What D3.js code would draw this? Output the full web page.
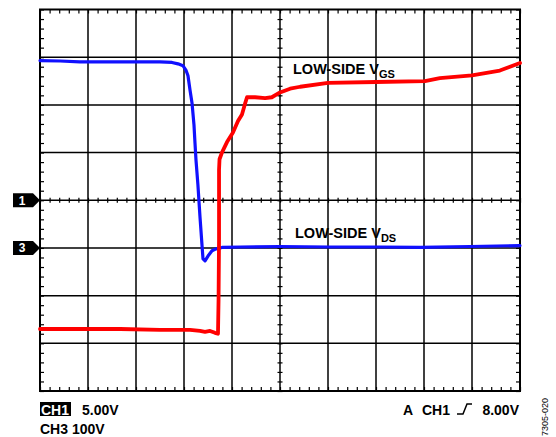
<!DOCTYPE html>
<html>
<head>
<meta charset="utf-8">
<script src="https://cdn.jsdelivr.net/npm/d3@7"></script>
<style>
  body { margin: 0; background: #fff; }
  text { font-family: "Liberation Sans", Arial, sans-serif; font-weight: bold; }
</style>
</head>
<body>
<svg width="556" height="437"></svg>
<script>
// time in screen divisions, values in volts
var vdsTime = [0, 0.42, 0.83, 1.67, 2.5, 2.75, 2.875, 2.98, 3.04, 3.083, 3.125, 3.167, 3.208, 3.229, 3.25, 3.29, 3.333, 3.375, 3.396, 3.438, 3.5, 3.583, 3.667, 3.79, 4.17, 5, 6.04, 7.08, 7.92, 8.96, 10];
var vdsVolts = [393, 392, 390, 390, 390, 389, 386, 382, 373, 361, 331, 304, 258, 220, 184, 132, 65, 6, -23, -27, -17, -6, -2, 1, 2, 3, 2, 2, 1, 3, 5];

var vgsTime = [0, 0.83, 1.67, 2.5, 3.125, 3.333, 3.438, 3.542, 3.646, 3.708, 3.72, 3.73, 3.73, 3.74, 3.79, 3.896, 4.02, 4.125, 4.208, 4.27, 4.313, 4.48, 4.69, 4.83, 5, 5.21, 5.42, 6, 7, 8.02, 8.33, 9, 9.58, 10];
var vgsVolts = [-13.5, -13.5, -13.5, -13.6, -13.6, -13.7, -13.8, -13.7, -13.9, -14.0, -10.4, -4.1, 3.2, 4.3, 5.0, 6.1, 7.1, 8.3, 9.0, 10.1, 10.8, 10.8, 10.7, 10.8, 11.3, 11.7, 11.9, 12.3, 12.4, 12.5, 12.8, 13.1, 13.6, 14.4];

var ch1VoltsPerDiv = 5, ch1Offset = 0;
var ch3VoltsPerDiv = 100, ch3Offset = -1;

var svg = d3.select("svg");

var x = d3.scaleLinear().domain([0, 10]).range([40, 520]);
var y = d3.scaleLinear().domain([-4, 4]).range([391, 9.5]);

var minorX = d3.range(0, 10.01, 0.2);
var minorY = d3.range(-4, 4.01, 0.2);

var grid = svg.append("g");

// major grid
grid.selectAll(".vline").data(d3.range(1, 10)).enter().append("line")
  .attr("x1", function(d) { return x(d); }).attr("x2", function(d) { return x(d); })
  .attr("y1", y(4)).attr("y2", y(-4))
  .attr("stroke", "#000").attr("stroke-width", 1.5);
grid.selectAll(".hline").data(d3.range(-3, 4)).enter().append("line")
  .attr("y1", function(d) { return y(d); }).attr("y2", function(d) { return y(d); })
  .attr("x1", x(0)).attr("x2", x(10))
  .attr("stroke", "#000").attr("stroke-width", 1.5);

// minor ticks along the border and the centre crosshair
function ticks(axis, size, tx, ty) {
  var g = grid.append("g")
    .attr("transform", "translate(" + tx + "," + ty + ")")
    .call(axis.tickSize(size).tickFormat(""));
  g.select(".domain").remove();
  g.selectAll("line").attr("stroke", "#000").attr("stroke-width", 1.2);
}
ticks(d3.axisBottom(x).tickValues(minorX), 4, 0, y(4));
ticks(d3.axisTop(x).tickValues(minorX), 4, 0, y(-4));
ticks(d3.axisRight(y).tickValues(minorY), 4, x(0), 0);
ticks(d3.axisLeft(y).tickValues(minorY), 4, x(10), 0);
ticks(d3.axisBottom(x).tickValues(minorX), 5, 0, y(0) - 2.5);
ticks(d3.axisRight(y).tickValues(minorY), 5, x(5) - 2.5, 0);

// border
grid.append("rect")
  .attr("x", x(0)).attr("y", y(4))
  .attr("width", x(10) - x(0)).attr("height", y(-4) - y(4))
  .attr("fill", "none").attr("stroke", "#000").attr("stroke-width", 2);

// traces
var vgs = vgsTime.map(function(t, i) { return [t, vgsVolts[i] / ch1VoltsPerDiv + ch1Offset]; });
var vds = vdsTime.map(function(t, i) { return [t, vdsVolts[i] / ch3VoltsPerDiv + ch3Offset]; });

var line = d3.line()
  .x(function(d) { return x(d[0]); })
  .y(function(d) { return y(d[1]); });

svg.append("path").datum(vds).attr("d", line)
  .attr("fill", "none").attr("stroke", "#1010ff").attr("stroke-width", 3.2)
  .attr("stroke-linejoin", "round").attr("stroke-linecap", "round");
svg.append("path").datum(vgs).attr("d", line)
  .attr("fill", "none").attr("stroke", "#ff0000").attr("stroke-width", 3.8)
  .attr("stroke-linejoin", "round").attr("stroke-linecap", "round");

// channel ground markers
function marker(label, level) {
  var cy = y(level);
  svg.append("path")
    .attr("d", "M13," + (cy - 7) + "H33L40," + cy + "L33," + (cy + 7) + "H13Z")
    .attr("fill", "#000");
  svg.append("text").attr("x", 22).attr("y", cy + 4.5)
    .attr("text-anchor", "middle").attr("fill", "#fff")
    .style("font-size", "12px").text(label);
}
marker("1", ch1Offset);
marker("3", ch3Offset);

// trace labels
function label(px, py, sub) {
  var t = svg.append("text").attr("x", px).attr("y", py).style("font-size", "14.5px");
  t.append("tspan").text("LOW-SIDE V");
  t.append("tspan").attr("dy", 4).style("font-size", "11px").text(sub);
}
label(293, 74, "GS");
label(295, 238, "DS");

// bottom readouts
svg.append("rect").attr("x", 40).attr("y", 402).attr("width", 31).attr("height", 14).attr("fill", "#000");
svg.append("text").attr("x", 41).attr("y", 415).attr("fill", "#fff").style("font-size", "14px").text("CH1");
svg.append("text").attr("x", 82).attr("y", 415).style("font-size", "14px").text("5.00V");
svg.append("text").attr("x", 40).attr("y", 434).style("font-size", "14px").text("CH3 100V");

svg.append("text").attr("x", 403).attr("y", 415).style("font-size", "14px").text("A");
svg.append("text").attr("x", 422).attr("y", 415).style("font-size", "14px").text("CH1");
svg.append("path")
  .attr("d", "M457,414H463L467,404H472")
  .attr("fill", "none").attr("stroke", "#000").attr("stroke-width", 1.5);
svg.append("text").attr("x", 519).attr("y", 415).attr("text-anchor", "end").style("font-size", "14px").text("8.00V");

svg.append("text")
  .attr("transform", "translate(548,417) rotate(-90)")
  .attr("text-anchor", "middle")
  .style("font-size", "9px").style("font-weight", "normal")
  .text("7305-020");
</script>
</body>
</html>
